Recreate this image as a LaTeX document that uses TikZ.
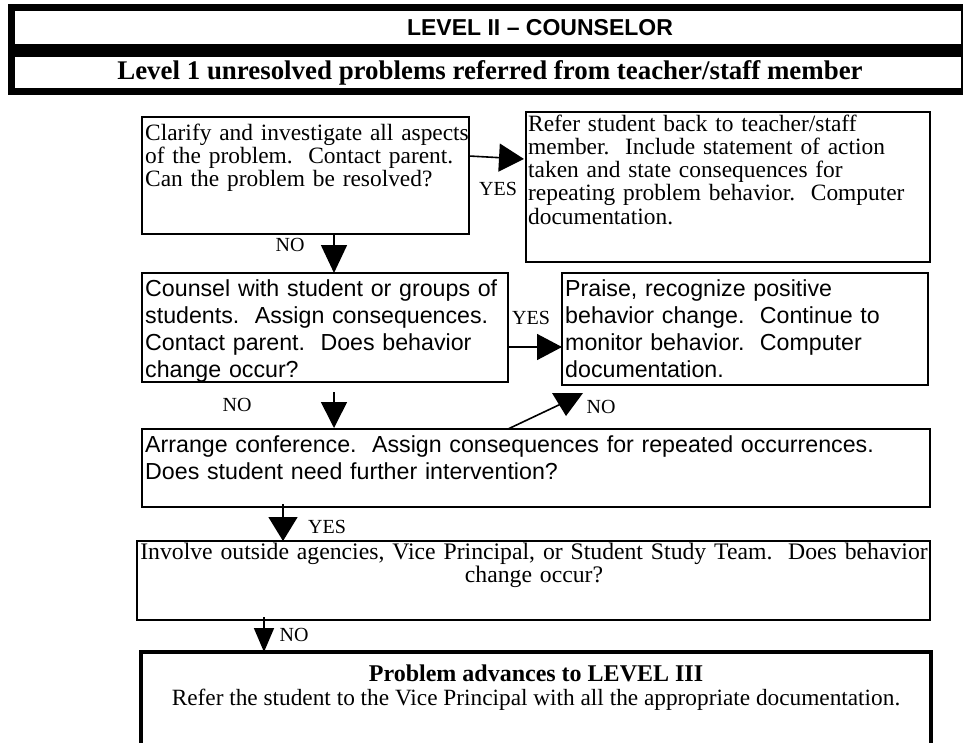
\documentclass[tikz,border=0pt]{standalone}
\usepackage{fontspec}
\setmainfont{Liberation Serif}
\setsansfont{Liberation Sans}
\usetikzlibrary{arrows.meta,calc}
\begin{document}
\begin{tikzpicture}[x=1pt,y=-1pt,
  box/.style={draw, line width=2pt, anchor=north west, inner sep=0pt, outer sep=0pt},
  bar/.style={fill=#1, anchor=north west, inner sep=0pt, outer sep=0pt},
  txt/.style={anchor=base west, inner sep=0pt, align=left, text width=#1},
  serif/.style={font=\fontsize{23.4}{23.3}\selectfont},
  sans/.style={font=\sffamily\fontsize{23.2}{27}\selectfont},
  lbl/.style={font=\fontsize{20}{20}\selectfont, inner sep=0pt},
  arr/.style 2 args={line width=1.6pt, -{Triangle[length=#1,width=#2]}},
]
\path[use as bounding box, clip] (0,0) rectangle (963,742);
\fill[white] (0,0) rectangle (963,742);
% header
\node[bar=black, minimum width=955pt, minimum height=91pt] (hdr) at (8,4) {};
\node[bar=white, minimum width=946pt, minimum height=33pt] (bar1) at (15,11) {};
\node[bar=white, minimum width=946pt, minimum height=31pt] (bar2) at (15,57) {};
\node[font=\sffamily\bfseries\fontsize{23}{23}\selectfont, inner sep=0pt] (title) at (540,27.5) {LEVEL II – COUNSELOR};
\node[font=\bfseries\fontsize{26.9}{26.9}\selectfont, inner sep=0pt] (sub) at (490,72.5) {Level 1 unresolved problems referred from teacher/staff member};
% boxes
\node[box, minimum width=327pt, minimum height=117pt] (b1) at (142,117) {};
\node[box, minimum width=404pt, minimum height=150pt] (b2) at (526,112) {};
\node[box, minimum width=366pt, minimum height=109pt] (b3) at (142,273) {};
\node[box, minimum width=366pt, minimum height=112pt] (b4) at (562,273) {};
\node[box, minimum width=788pt, minimum height=78pt] (b5) at (142,429) {};
\node[box, minimum width=793pt, minimum height=79pt] (b6) at (137,541) {};
\node[box, line width=3.5pt, minimum width=790pt, minimum height=130pt] (b7) at (141,652) {};
% texts
\node[txt=400pt, serif] (tb1) at (145,140) {Clarify and investigate all aspects\\of the problem.\ \ Contact parent.\\Can the problem be resolved?};
\node[txt=420pt, serif] (tb2) at (528,131) {Refer student back to teacher/staff\\member.\ \ Include statement of action\\taken and state consequences for\\repeating problem behavior.\ \ Computer\\documentation.};
\node[txt=420pt, sans] (tb3) at (145,296) {Counsel with student or groups of\\students.\ \ Assign consequences.\\Contact parent.\ \ Does behavior\\change occur?};
\node[txt=420pt, sans] (tb4) at (565,296) {Praise, recognize positive\\behavior change.\ \ Continue to\\monitor behavior.\ \ Computer\\documentation.};
\node[txt=800pt, sans] (tb5) at (145,452) {Arrange conference.\ \ Assign consequences for repeated occurrences.\\Does student need further intervention?};
\node[anchor=base, inner sep=0pt, align=center, text width=900pt, font=\fontsize{23.7}{23.3}\selectfont] (tb6) at (534,559) {Involve outside agencies, Vice Principal, or Student Study Team.\ \ Does behavior\\change occur?};
\node[anchor=base, inner sep=0pt, font=\bfseries\fontsize{24}{24}\selectfont] (tb7a) at (536,681) {Problem advances to LEVEL III};
\node[anchor=base, inner sep=0pt, font=\fontsize{23.3}{23.3}\selectfont] (tb7b) at (536,705) {Refer the student to the Vice Principal with all the appropriate documentation.};
% connectors
\draw[arr={25pt}{28pt}] ($(b1.north east)+(0,39)$) -- ($(b2.north west)+(-2,47)$);
\draw[arr={28pt}{26pt}] ($(b1.south west)+(192,0)$) -- ($(b3.north west)+(192,0)$);
\draw[arr={25pt}{26pt}] ($(b3.north east)+(0,74)$) -- ($(b4.north west)+(0,74)$);
\draw[arr={26pt}{26pt}] ($(b3.south west)+(192,10)$) -- ($(b5.north west)+(192,-1)$);
\draw[line width=1.6pt] ($(b5.north west)+(366,0)$) -- ($(b4.south west)+(1,18)$);
\fill ($(b4.south west)+(-10,8)$) -- ($(b4.south west)+(21,8)$) -- ($(b4.south west)+(4,31)$) -- cycle;
\draw[arr={24pt}{29pt}] ($(b5.south west)+(141,-3)$) -- ($(b6.north west)+(146,0)$);
\draw[arr={24pt}{20pt}] ($(b6.south west)+(127,-3)$) -- ($(b7.north west)+(123,0)$);
% labels
\node[lbl] (yes1) at (498,189) {YES};
\node[lbl] (no1) at (290,245) {NO};
\node[lbl] (yes2) at (531,318) {YES};
\node[lbl] (no2) at (237,405) {NO};
\node[lbl] (no3) at (601,407) {NO};
\node[lbl] (yes3) at (327,527) {YES};
\node[lbl] (no4) at (294,635) {NO};
\end{tikzpicture}
\end{document}
